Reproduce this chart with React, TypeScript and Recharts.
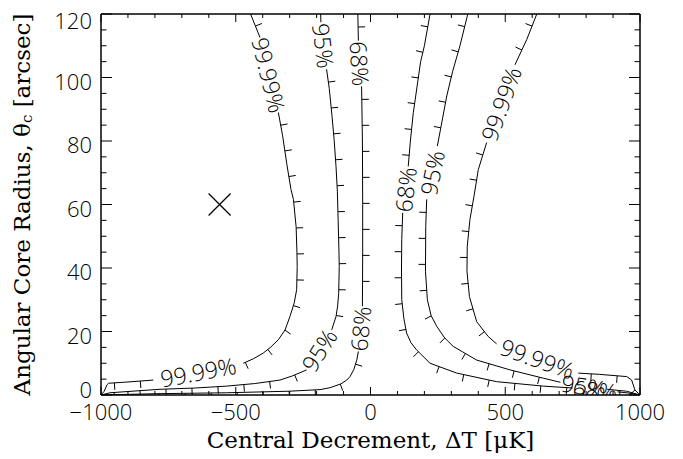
import { ComposedChart, Line, XAxis, YAxis } from 'recharts'

type Row = [number, number] | string

// axis ticks (minor every 100 / 5, labelled every 500 / 20)
const X_TICKS = [
  -1000, -900, -800, -700, -600, -500, -400, -300, -200, -100, 0, 100, 200, 300, 400, 500, 600, 700, 800,
  900, 1000,
]
const X_LABELLED = [-1000, -500, 0, 500, 1000]
const Y_TICKS = [
  0, 5, 10, 15, 20, 25, 30, 35, 40, 45, 50, 55, 60, 65, 70, 75, 80, 85, 90, 95, 100, 105, 110, 115, 120,
]
const Y_LABELLED = [0, 20, 40, 60, 80, 100, 120]

// contour paths, [deltaT, thetaC]; a string marks where the line breaks for its label
const LEFT_9999: Row[] = [
  [-445, 120], [-410, 112.6], '99.99%', [-342, 89], [-326, 81.6], [-311, 73], [-295, 64.7], [-286, 61.6],
  [-276, 53], [-273, 45], [-272, 40.5], [-274, 33.2], [-283, 29], [-299, 24.7], [-317, 20.5], [-342, 17.4],
  [-370, 15.1], [-398, 13.2], [-435, 11.4], [-472, 10], '99.99%', [-806, 4.7], [-900, 4.1], [-972, 3.7],
  [-978, 3.2], [-988, 1.2], [-1000, 0],
]
const LEFT_95: Row[] = [
  [-185, 120], [-184, 117.4], '95%', [-163, 102.6], [-153, 96.5], [-143, 88], [-135, 80.5], [-128, 72],
  [-123, 64.2], [-120, 55], [-117, 45], [-116, 40.5], [-118, 32], [-122, 28], [-128, 24.7], [-144, 20.5],
  '95%', [-237, 7.9], [-290, 6], [-336, 4.7], [-430, 3.6], [-534, 2.8], [-650, 2.2], [-781, 1.8],
  [-900, 1.1], [-967, 0.7], [-1000, 0],
]
const LEFT_68: Row[] = [
  [-47, 120], [-45, 111.6], '68%', [-33, 97.2], [-30, 80], [-29, 60], [-29, 45], [-30, 28], '68%',
  [-45, 13.7], [-51, 11], [-62, 8], [-76, 5.8], [-88, 4.7], [-110, 3.5], [-150, 2.3], [-187, 1.7],
  [-300, 1.2], [-534, 0.7], [-800, 0.4], [-1000, 0],
]
const RIGHT_68: Row[] = [
  [221, 120], [200, 110], [186, 105], [159, 89], [148, 80], [140, 72], '68%', [119.5, 57.4], [116, 49],
  [115, 40], [116, 30], [124, 24], [134, 19.5], [150, 16.5], [171, 14.2], [221, 10], [320, 6.9],
  [468, 4.2], [641, 2.8], [750, 2.2], '68%', [916, 1.0], [960, 0.6], [1000, 0],
]
const RIGHT_95: Row[] = [
  [361, 120], [332, 110], [305, 102], [283, 94.2], [265, 86], [248, 78.4], '95%', [208.5, 61.6],
  [205, 53], [204, 39], [211, 30], [225, 25], [246, 21.6], [275, 18], [307, 15.3], [394, 11], [518, 7.9],
  [641, 5.3], [705, 4.0], '95%', [878, 1.8], [950, 1.2], [1000, 0],
]
const RIGHT_9999: Row[] = [
  [617, 120], [580, 112], [536, 104], '99.99%', [431, 79.5], [400, 71], [384, 62.6], [369, 55.3],
  [359, 46.8], [358, 39], [367, 31], [394, 23.1], [437, 18.4], [468, 16.1], '99.99%', [771, 6.9],
  [850, 6.5], [951, 5.8], [969, 4.7], [981, 1.6], [1000, 0],
]

// best-fit marker
const MARK = [{ x: -560, y: 60 }]

const CONTOURS = [
  { id: 'l9999', rows: LEFT_9999, side: -1 },
  { id: 'l95', rows: LEFT_95, side: -1 },
  { id: 'l68', rows: LEFT_68, side: -1 },
  { id: 'r68', rows: RIGHT_68, side: 1 },
  { id: 'r95', rows: RIGHT_95, side: 1 },
  { id: 'r9999', rows: RIGHT_9999, side: 1 },
]

const INK = '#000'
const NUM_FONT = '"Open Sans", "DejaVu Sans", sans-serif'
const TITLE_FONT = '"DejaVu Serif", serif'
const TICK_LEN = 7
const TICK_GAP = 26
const PLOT_TOP = 14
const PLOT_BOTTOM = 395

function toData(rows: Row[]) {
  return rows.map((r, i) => {
    if (typeof r === 'string') {
      const a = rows[i - 1] as [number, number]
      const b = rows[i + 1] as [number, number]
      return { x: (a[0] + b[0]) / 2, y: null as number | null, label: r }
    }
    return { x: r[0], y: r[1] as number | null, label: '' }
  })
}

type P = { x: number; y: number }

function walk(run: P[], step: number, start: number, cb: (x: number, y: number, ux: number, uy: number) => void) {
  let need = start
  for (let k = 1; k < run.length; k++) {
    const a = run[k - 1]
    const b = run[k]
    const dx = b.x - a.x
    const dy = b.y - a.y
    const len = Math.hypot(dx, dy)
    if (!len) continue
    let pos = need
    while (pos <= len) {
      cb(a.x + (dx * pos) / len, a.y + (dy * pos) / len, dx / len, dy / len)
      pos += step
    }
    need = pos - len
  }
}

/** Downhill ticks and inline labels, laid out on the projected points of the line. */
function contourDecor(side: number) {
  return (props: any) => {
    const { index, points } = props
    if (index !== 0 || !points) return <g key={`d-${index}`} />
    const runs: P[][] = []
    const labels: { a: P; b: P; text: string }[] = []
    let cur: P[] = []
    points.forEach((p: any, i: number) => {
      if (p.payload?.y == null) {
        if (cur.length) runs.push(cur)
        cur = []
        const a = points[i - 1]
        const b = points[i + 1]
        if (a && b) labels.push({ a, b, text: p.payload?.label })
      } else cur.push({ x: p.x, y: p.y })
    })
    if (cur.length) runs.push(cur)

    let d = ''
    runs.forEach((run) =>
      walk(run, TICK_GAP, TICK_GAP / 2, (x, y, ux, uy) => {
        d += `M${x},${y}L${x - side * uy * TICK_LEN},${y + side * ux * TICK_LEN}`
      }),
    )

    return (
      <g key="decor">
        <path d={d} stroke={INK} strokeWidth={1} fill="none" />
        {labels.map((l, i) => {
          let ang = (Math.atan2(l.b.y - l.a.y, l.b.x - l.a.x) * 180) / Math.PI
          if (ang > 90) ang -= 180
          if (ang <= -90) ang += 180
          const cx = (l.a.x + l.b.x) / 2
          const cy = (l.a.y + l.b.y) / 2
          return (
            <text
              key={i}
              x={cx}
              y={cy}
              transform={`rotate(${ang} ${cx} ${cy})`}
              textAnchor="middle"
              dominantBaseline="central"
              fontFamily={NUM_FONT}
              fontWeight={300}
              fontSize={23}
              fill={INK}
            >
              {l.text}
            </text>
          )
        })}
      </g>
    )
  }
}

function XMark(props: any) {
  const { cx, cy } = props
  if (cx == null || cy == null) return <g key="xm" />
  const s = 11
  return (
    <path
      key="xm"
      d={`M${cx - s},${cy - s}L${cx + s},${cy + s}M${cx - s},${cy + s}L${cx + s},${cy - s}`}
      stroke={INK}
      strokeWidth={1.2}
      fill="none"
    />
  )
}

const fmtX = (v: number) => (v < 0 ? `\u2212${Math.abs(v)}` : `${v}`)

function BottomTick(props: any) {
  const { x, y, payload } = props
  const v = payload.value
  const major = X_LABELLED.includes(v)
  return (
    <g>
      <line x1={x} x2={x} y1={y} y2={y - (major ? 8 : 4)} stroke={INK} />
      {major && (
        <text x={x} y={y + 25} textAnchor="middle" fontFamily={NUM_FONT} fontWeight={300} fontSize={22} fill={INK}>
          {fmtX(v)}
        </text>
      )}
    </g>
  )
}

function TopTick(props: any) {
  const { x, y, payload } = props
  const major = X_LABELLED.includes(payload.value)
  return <line x1={x} x2={x} y1={y} y2={y + (major ? 8 : 4)} stroke={INK} />
}

function LeftTick(props: any) {
  const { x, y, payload } = props
  const v = payload.value
  const major = Y_LABELLED.includes(v)
  // labels sit a little below their tick, kept inside the frame at both ends
  const ly = Math.min(Math.max(y + 3, PLOT_TOP + 6), PLOT_BOTTOM - 6)
  return (
    <g>
      <line x1={x} x2={x + (major ? 11 : 5.5)} y1={y} y2={y} stroke={INK} />
      {major && (
        <text
          x={x - 9}
          y={ly}
          textAnchor="end"
          dominantBaseline="central"
          fontFamily={NUM_FONT}
          fontWeight={300}
          fontSize={22}
          fill={INK}
        >
          {v}
        </text>
      )}
    </g>
  )
}

function RightTick(props: any) {
  const { x, y, payload } = props
  const major = Y_LABELLED.includes(payload.value)
  return <line x1={x} x2={x - (major ? 11 : 5.5)} y1={y} y2={y} stroke={INK} />
}

function XTitle(props: any) {
  const vb = props.viewBox
  return (
    <text
      x={vb.x + vb.width / 2}
      y={vb.y + 53}
      textAnchor="middle"
      fontFamily={TITLE_FONT}
      fontSize={23}
      fill={INK}
    >
      Central Decrement, ΔT [μK]
    </text>
  )
}

function YTitle(props: any) {
  const vb = props.viewBox
  const cx = 22
  const cy = vb.y + vb.height / 2
  return (
    <text
      x={cx}
      y={cy}
      transform={`rotate(-90 ${cx} ${cy})`}
      textAnchor="middle"
      dominantBaseline="central"
      fontFamily={TITLE_FONT}
      fontSize={23}
      fill={INK}
    >
      Angular Core Radius, θ
      <tspan dy={5} fontSize={15}>
        c
      </tspan>
      <tspan dy={-5}> [arcsec]</tspan>
    </text>
  )
}

export default function App() {
  return (
    <div style={{ position: 'absolute', left: 0, top: 0, background: '#fff' }}>
      <ComposedChart width={683} height={459} margin={{ top: 0, right: 0, bottom: 0, left: 0 }}>
        <XAxis
          type="number"
          dataKey="x"
          domain={[-1000, 1000]}
          allowDataOverflow
          ticks={X_TICKS}
          interval={0}
          tickSize={0}
          tickMargin={0}
          tickLine={false}
          tick={BottomTick}
          axisLine={{ stroke: INK, strokeWidth: 1.5 }}
          height={64}
          label={XTitle}
        />
        <XAxis
          xAxisId="top"
          orientation="top"
          type="number"
          dataKey="x"
          domain={[-1000, 1000]}
          allowDataOverflow
          ticks={X_TICKS}
          interval={0}
          tickSize={0}
          tickMargin={0}
          tickLine={false}
          tick={TopTick}
          axisLine={{ stroke: INK, strokeWidth: 1.5 }}
          height={PLOT_TOP}
        />
        <YAxis
          type="number"
          dataKey="y"
          domain={[0, 120]}
          allowDataOverflow
          ticks={Y_TICKS}
          interval={0}
          tickSize={0}
          tickMargin={0}
          tickLine={false}
          tick={LeftTick}
          axisLine={{ stroke: INK, strokeWidth: 1.5 }}
          width={101}
          label={YTitle}
        />
        <YAxis
          yAxisId="right"
          orientation="right"
          type="number"
          dataKey="y"
          domain={[0, 120]}
          allowDataOverflow
          ticks={Y_TICKS}
          interval={0}
          tickSize={0}
          tickMargin={0}
          tickLine={false}
          tick={RightTick}
          axisLine={{ stroke: INK, strokeWidth: 1.5 }}
          width={43}
        />
        {CONTOURS.map((c) => (
          <Line
            key={c.id}
            data={toData(c.rows)}
            dataKey="y"
            type="linear"
            stroke={INK}
            strokeWidth={1}
            connectNulls={false}
            dot={contourDecor(c.side)}
            activeDot={false}
            isAnimationActive={false}
          />
        ))}
        <Line data={MARK} dataKey="y" stroke="none" dot={XMark} activeDot={false} isAnimationActive={false} />
      </ComposedChart>
    </div>
  )
}
